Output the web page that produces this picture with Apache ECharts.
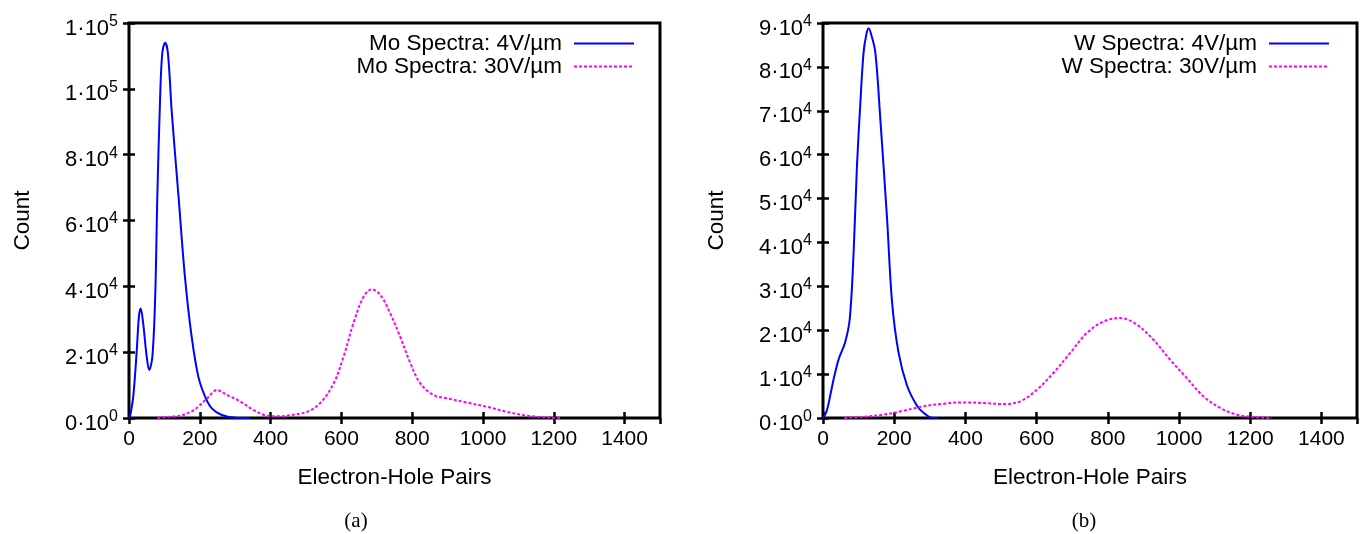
<!DOCTYPE html>
<html>
<head>
<meta charset="utf-8">
<script src="https://cdn.jsdelivr.net/npm/echarts@6/dist/echarts.min.js"></script>
<style>html,body{margin:0;padding:0;background:#fff}#c{width:1362px;height:534px}</style>
</head>
<body>
<div id="c"></div>
<script>
// ---- data ----
const xTicks = [0, 200, 400, 600, 800, 1000, 1200, 1400];
const moX4  = [0, 3, 12, 22, 28, 33, 40, 50, 57, 66, 74, 80, 88, 94, 102, 110, 121, 140, 158, 177, 196, 215, 234, 262, 300, 340];
const moY4  = [0, 600, 6500, 20700, 30800, 33300, 28800, 18600, 14600, 18600, 36900, 67200, 97600, 110800, 114000, 110800, 92600, 67200, 42900, 24700, 12500, 6500, 2900, 900, 100, 0];
const moX30 = [80, 100, 120, 145, 183, 221, 249, 277, 315, 352, 390, 420, 446, 503, 540, 578, 606, 634, 663, 686, 710, 738, 766, 795, 823, 860, 898, 955, 1011, 1067, 1124, 1180, 1220];
const moY30 = [0, 200, 400, 700, 2400, 6000, 8500, 7000, 5000, 2400, 700, 500, 700, 1900, 4500, 10500, 18600, 28800, 36900, 39100, 37400, 31800, 24700, 16600, 10500, 7000, 6000, 4700, 3400, 1900, 700, 200, 0];
const wX4   = [0, 10, 20, 30, 44, 62, 75, 86, 95, 105, 114, 122, 128, 135, 147, 161, 180, 194, 212, 236, 264, 285, 301, 320];
const wY4   = [0, 1500, 5000, 8900, 13400, 17200, 22500, 37700, 56700, 71900, 83300, 87500, 88800, 87500, 83300, 68100, 45300, 26400, 15000, 7400, 2800, 1000, 150, 0];
const wX30  = [60, 104, 170, 226, 282, 338, 395, 451, 507, 554, 601, 647, 694, 741, 788, 835, 882, 928, 975, 1022, 1069, 1116, 1163, 1209, 1260];
const wY30  = [0, 200, 750, 1660, 2650, 3260, 3560, 3400, 3190, 3800, 6450, 10250, 14800, 19360, 22000, 22780, 21250, 17840, 13280, 9100, 4900, 2280, 750, 230, 0];
const names = ['Mo Spectra: 4V/µm', 'Mo Spectra: 30V/µm', 'W Spectra: 4V/µm', 'W Spectra: 30V/µm'];
const captions = ['(a)', '(b)'];

const zip = (xs, ys) => xs.map((x, i) => [x, ys[i]]);
const FONT = 'Liberation Sans';

function sci(v) {
  if (v === 0) return '{m|0·10}{s|0}';
  const e = Math.floor(Math.log10(v) + 1e-9);
  const m = Math.round(v / Math.pow(10, e));
  return '{m|' + m + '·10}{s|' + e + '}';
}

const tick = { show: true, inside: true, length: 6, lineStyle: { color: '#000', width: 2.5 } };

function xAx(gi, main) {
  return {
    type: 'value', gridIndex: gi, min: 0, max: 1500, interval: 200,
    position: main ? 'bottom' : 'top',
    axisLine: { show: false }, splitLine: { show: false },
    axisTick: tick,
    axisLabel: main ? { show: true, showMaxLabel: false, margin: 11, color: '#000', fontFamily: FONT, fontSize: 21, formatter: v => String(v) } : { show: false },
    name: main ? 'Electron-Hole Pairs' : '', nameLocation: 'middle', nameGap: 48,
    nameTextStyle: { color: '#000', fontFamily: FONT, fontSize: 22.5 }
  };
}
function yAx(gi, max, interval, main) {
  return {
    type: 'value', gridIndex: gi, min: 0, max: max, interval: interval,
    position: main ? 'left' : 'right',
    axisLine: { show: false }, splitLine: { show: false },
    axisTick: tick,
    axisLabel: main ? {
      show: true, margin: 11, formatter: sci, padding: [7, 0, 0, 0],
      rich: {
        m: { fontFamily: FONT, fontSize: 22, color: '#000', lineHeight: 26, verticalAlign: 'bottom' },
        s: { fontFamily: FONT, fontSize: 16, color: '#000', lineHeight: 16, verticalAlign: 'top' }
      }
    } : { show: false },
    name: main ? 'Count' : '', nameLocation: 'middle', nameRotate: 90, nameGap: 95,
    nameTextStyle: { color: '#000', fontFamily: FONT, fontSize: 22.5 }
  };
}
function line(name, data, xi, yi, color, dashed) {
  return {
    type: 'line', name: name, data: data, xAxisIndex: xi, yAxisIndex: yi,
    symbol: 'none', showSymbol: false, smooth: 0.35, animation: false,
    lineStyle: { color: color, width: 2, type: dashed ? [3, 2] : 'solid' },
    itemStyle: { color: color }
  };
}
function leg(data, right) {
  return {
    data: data, orient: 'vertical', align: 'right', right: right, top: 32, padding: 0,
    itemWidth: 60, itemHeight: 14, itemGap: 0, selectedMode: false,
    itemStyle: { opacity: 0 },
    textStyle: { fontFamily: FONT, fontSize: 22.5, color: '#000', lineHeight: 22, padding: [0, 7, 0, 0] }
  };
}

const chart = echarts.init(document.getElementById('c'), null, { renderer: 'canvas' });
chart.setOption({
  animation: false,
  backgroundColor: '#fff',
  grid: [
    { left: 129, right: 702, top: 23, bottom: 116, show: true, borderColor: '#000', borderWidth: 3 },
    { left: 823, right: 5, top: 23, bottom: 116, show: true, borderColor: '#000', borderWidth: 3 }
  ],
  xAxis: [xAx(0, true), xAx(0, false), xAx(1, true), xAx(1, false)],
  yAxis: [yAx(0, 120000, 20000, true), yAx(0, 120000, 20000, false), yAx(1, 90000, 10000, true), yAx(1, 90000, 10000, false)],
  legend: [leg([names[0], names[1]], 727), leg([names[2], names[3]], 32)],
  series: [
    line(names[0], zip(moX4, moY4), 0, 0, '#0000ff', false),
    line(names[1], zip(moX30, moY30), 0, 0, '#ff00ff', true),
    line(names[2], zip(wX4, wY4), 2, 2, '#0000ff', false),
    line(names[3], zip(wX30, wY30), 2, 2, '#ff00ff', true)
  ],
  graphic: [
    { type: 'text', x: 356, y: 521, style: { text: captions[0], font: '21px "Liberation Serif"', fill: '#000', align: 'center', verticalAlign: 'middle', textAlign: 'center', textVerticalAlign: 'middle' } },
    { type: 'text', x: 1084, y: 521, style: { text: captions[1], font: '21px "Liberation Serif"', fill: '#000', align: 'center', verticalAlign: 'middle', textAlign: 'center', textVerticalAlign: 'middle' } }
  ]
});
</script>
</body>
</html>
